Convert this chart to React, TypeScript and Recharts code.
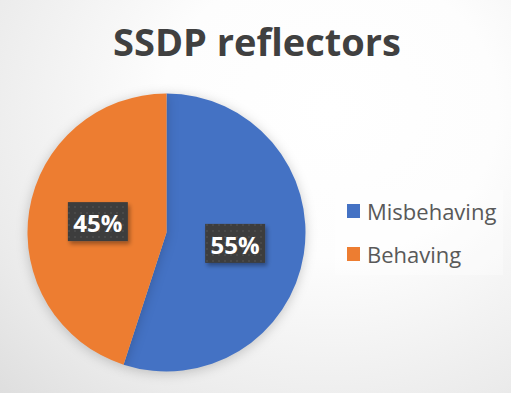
import React from 'react';
import { PieChart, Pie, Cell, Legend } from 'recharts';

const categories = ['Misbehaving', 'Behaving'];
const values = [55, 45];
const colors = ['#4472C4', '#ED7D31'];
const title = 'SSDP reflectors';

const data = categories.map((name, i) => ({ name, value: values[i] }));

const RADIAN = Math.PI / 180;
const FONT = '"Open Sans", "Noto Sans", sans-serif';

const renderLabel = (props: any) => {
  const { cx, cy, midAngle, outerRadius, percent, index } = props;
  const r = outerRadius * 0.5;
  const x = cx + r * Math.cos(-midAngle * RADIAN);
  const y = cy + r * Math.sin(-midAngle * RADIAN);
  const w = 60;
  const h = 39;
  return (
    <g key={`lbl-${index}`}>
      <rect x={x - w / 2} y={y - h / 2} width={w} height={h} fill="url(#dots)" filter="url(#boxShadow)" />
      <text
        x={x}
        y={y + 1}
        textAnchor="middle"
        dominantBaseline="central"
        fill="#ffffff"
        fontFamily={FONT}
        fontWeight={700}
        fontSize={24}
      >
        {`${Math.round(percent * 100)}%`}
      </text>
    </g>
  );
};

const renderLegend = () => (
  <div
    style={{
      background: 'rgba(255,255,255,0.35)',
      width: 168,
      height: 85,
      boxSizing: 'border-box',
      paddingTop: 10,
      paddingLeft: 12,
    }}
  >
    {data.map((d, i) => (
      <div key={d.name} style={{ display: 'flex', alignItems: 'center', height: 22, marginBottom: i === 0 ? 21 : 0 }}>
        <div style={{ width: 13, height: 14, background: colors[i], marginRight: 7 }} />
        <span style={{ fontFamily: FONT, fontSize: 22, color: '#595959', lineHeight: '22px' }}>{d.name}</span>
      </div>
    ))}
  </div>
);

export default function App() {
  return (
    <div
      style={{
        position: 'absolute',
        left: 0,
        top: 0,
        width: 511,
        height: 393,
        overflow: 'hidden',
        background: 'radial-gradient(ellipse 480px 420px at 330px 110px, #ffffff 0%, #fdfdfd 35%, #ebebeb 75%, #dcdcdc 100%)',
      }}
    >
      <div
        style={{
          position: 'absolute',
          left: 0,
          top: 15,
          width: 514,
          textAlign: 'center',
          fontFamily: FONT,
          fontWeight: 700,
          fontSize: 38,
          lineHeight: '52px',
          color: '#404040',
        }}
      >
        {title}
      </div>
      <PieChart
        width={511}
        height={393}
        margin={{ top: 0, right: 0, bottom: 0, left: 0 }}
        style={{ position: 'absolute', left: 0, top: 0 }}
      >
        <defs>
          <pattern id="dots" width="6" height="6" patternUnits="userSpaceOnUse">
            <rect width="6" height="6" fill="#3d3d3d" />
            <circle cx="3" cy="3" r="1" fill="#4e4e4e" />
          </pattern>
          <filter id="boxShadow" x="-20%" y="-20%" width="150%" height="160%">
            <feDropShadow dx="2" dy="3" stdDeviation="2" floodColor="#000" floodOpacity="0.35" />
          </filter>
        </defs>
        <Pie
          data={data}
          dataKey="value"
          nameKey="name"
          cx={166.5}
          cy={232.5}
          outerRadius={139}
          startAngle={90}
          endAngle={-270}
          stroke="none"
          label={renderLabel}
          labelLine={false}
          isAnimationActive={false}
          style={{ filter: 'drop-shadow(0px 2px 6px rgba(0,0,0,0.2))' }}
        >
          {data.map((d, i) => (
            <Cell key={d.name} fill={colors[i]} />
          ))}
        </Pie>
        <Legend
          content={renderLegend}
          wrapperStyle={{ position: 'absolute', left: 335, top: 190, width: 168, height: 85 }}
        />
      </PieChart>
    </div>
  );
}
